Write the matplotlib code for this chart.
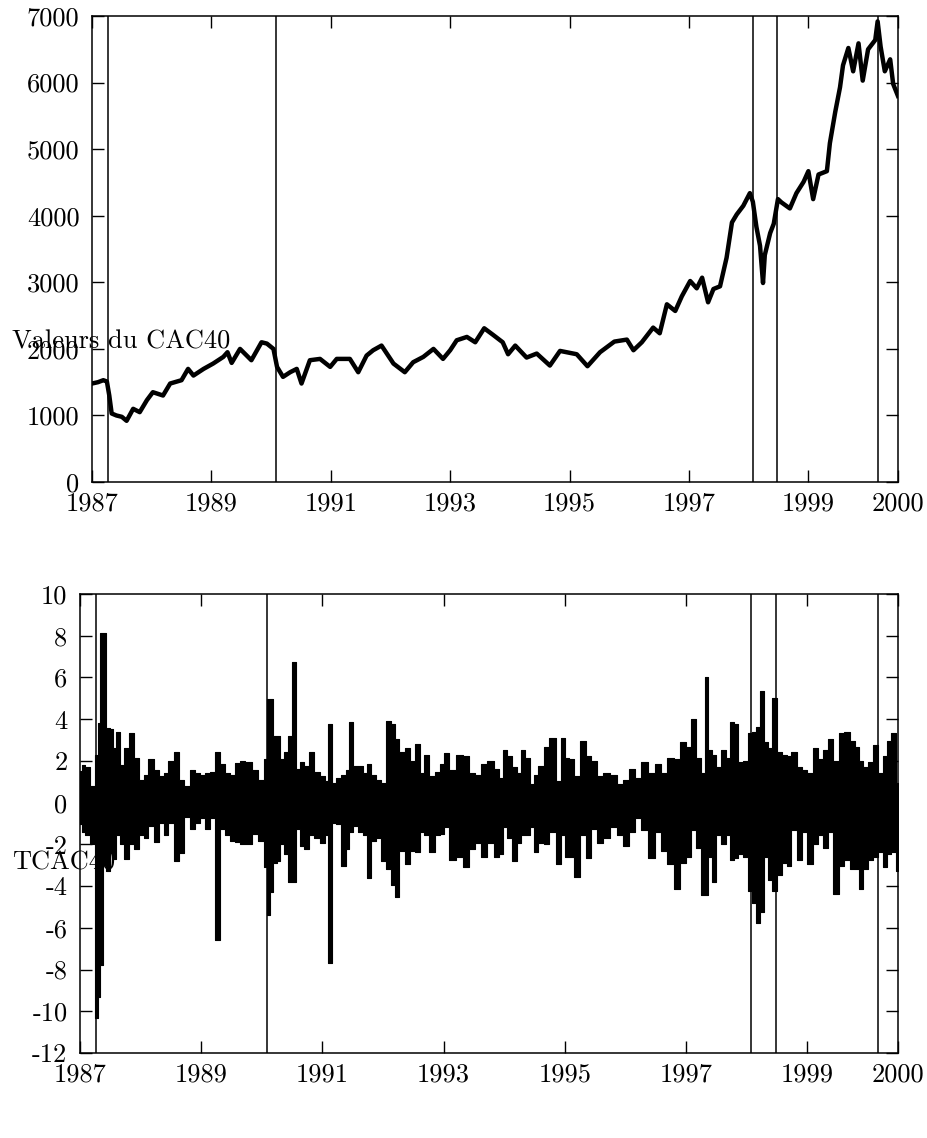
import numpy as np
import matplotlib
matplotlib.use("Agg")
import matplotlib.pyplot as plt

plt.rcParams["font.family"] = ["cmr10", "DejaVu Serif"]
plt.rcParams["axes.unicode_minus"] = False
plt.rcParams["font.size"] = 19

# x axis: years since start of sample (ticks labelled with calendar years)
tick_pos = [0, 2, 4, 6, 8, 10, 12, 13.5]
tick_lab = ["1987", "1989", "1991", "1993", "1995", "1997", "1999", "2000"]

# break dates (vertical lines)
breaks = [0.27, 3.09, 11.08, 11.48, 13.17]

# CAC40 level
cac_t = [0.0, 0.1, 0.19, 0.25, 0.29, 0.33, 0.41, 0.5, 0.58, 0.69, 0.8, 0.92,
         1.02, 1.19, 1.31, 1.5, 1.61, 1.7, 1.87, 2.03, 2.2, 2.27, 2.34, 2.48,
         2.67, 2.84, 2.93, 3.04, 3.1, 3.2, 3.32, 3.43, 3.51, 3.65, 3.82, 3.99,
         4.1, 4.32, 4.46, 4.6, 4.71, 4.85, 5.05, 5.24, 5.38, 5.55, 5.72, 5.88,
         6.0, 6.11, 6.28, 6.42, 6.57, 6.72, 6.88, 6.97, 7.09, 7.28, 7.45, 7.67,
         7.84, 8.12, 8.3, 8.51, 8.75, 8.96, 9.07, 9.21, 9.4, 9.51, 9.63, 9.77,
         9.88, 10.02, 10.13, 10.22, 10.32, 10.41, 10.52, 10.63, 10.72, 10.8,
         10.91, 11.02, 11.07, 11.13, 11.19, 11.24, 11.27, 11.36, 11.42, 11.49,
         11.55, 11.69, 11.8, 11.92, 12.0, 12.08, 12.17, 12.31, 12.36, 12.45,
         12.53, 12.58, 12.67, 12.75, 12.84, 12.91, 13.0, 13.12, 13.16, 13.21,
         13.28, 13.37, 13.42, 13.5]
cac_v = [1480, 1500, 1530, 1510, 1300, 1030, 1000, 980, 920, 1100, 1050, 1230,
         1350, 1300, 1480, 1530, 1700, 1600, 1700, 1780, 1880, 1950, 1790, 2000,
         1830, 2100, 2080, 2000, 1730, 1580, 1650, 1700, 1480, 1830, 1850, 1730,
         1850, 1850, 1650, 1900, 1980, 2050, 1780, 1650, 1800, 1880, 2000, 1850,
         1980, 2130, 2180, 2100, 2310, 2210, 2100, 1920, 2050, 1870, 1930, 1750,
         1970, 1920, 1740, 1950, 2110, 2140, 1980, 2100, 2320, 2235, 2670, 2570,
         2790, 3020, 2910, 3070, 2700, 2900, 2940, 3370, 3900, 4020,
         4150, 4340, 4210, 3830, 3550, 2990, 3410, 3740, 3880, 4250,
         4200, 4110, 4340, 4510, 4670, 4250, 4620, 4670, 5090, 5560,
         5930, 6260, 6520, 6170, 6590, 6030, 6500, 6640, 6920, 6540,
         6170, 6350, 5980, 5800]

# TCAC40 returns: local highs and lows
ret_t = [0.0, 0.05, 0.13, 0.21, 0.27, 0.31, 0.35, 0.4, 0.46, 0.52, 0.57, 0.63, 0.68,
         0.76, 0.85, 0.93, 1.01, 1.09, 1.17, 1.26, 1.34, 1.42, 1.5, 1.61, 1.66,
         1.77, 1.86, 1.94, 2.02, 2.1, 2.19, 2.27, 2.35, 2.43, 2.52, 2.6, 2.67,
         2.78, 2.89, 3.0, 3.06, 3.11, 3.16, 3.21, 3.28, 3.33, 3.39, 3.47, 3.53,
         3.61, 3.66, 3.75, 3.82, 3.91, 4.0, 4.08, 4.12, 4.19, 4.27, 4.35, 4.42,
         4.46, 4.54, 4.63, 4.71, 4.76, 4.85, 4.93, 5.01, 5.09, 5.18, 5.23, 5.31,
         5.41, 5.49, 5.57, 5.66, 5.71, 5.82, 5.9, 5.99, 6.04, 6.15, 6.26, 6.37,
         6.48, 6.56, 6.67, 6.78, 6.87, 6.95, 7.0, 7.09, 7.17, 7.25, 7.3, 7.39,
         7.46, 7.52, 7.61, 7.69, 7.8, 7.91, 7.98, 8.04, 8.11, 8.2, 8.31, 8.39,
         8.47, 8.58, 8.69, 8.8, 8.91, 9.02, 9.1, 9.21, 9.32, 9.43, 9.54, 9.63,
         9.74, 9.85, 9.96, 10.04, 10.13, 10.2, 10.29, 10.33, 10.4, 10.45, 10.53,
         10.63, 10.7, 10.76, 10.82, 10.9, 10.99, 11.07, 11.12, 11.19, 11.25,
         11.32, 11.4, 11.45, 11.54, 11.62, 11.7, 11.78, 11.87, 11.95, 12.06,
         12.14, 12.22, 12.31, 12.39, 12.47, 12.57, 12.66, 12.75, 12.83, 12.88,
         12.97, 13.05, 13.13, 13.21, 13.3, 13.35, 13.43, 13.5]
ret_hi = [1.5, 1.8, 1.7, 0.8, 2.3, 3.8, 8.15, 8.15, 3.6, 3.55, 2.6, 3.4, 1.8,
          2.6, 3.33, 2.15, 1.1, 1.33, 2.07, 1.55, 1.26, 1.4, 2.0, 2.44, 1.1,
          0.8, 1.55, 1.4, 1.33, 1.4, 1.48, 2.44, 1.85, 1.4, 1.33, 1.9, 2.0,
          1.93, 1.55, 1.1, 2.07, 4.96, 4.96, 3.19, 3.19, 2.07, 2.44, 3.19, 6.74,
          1.63, 1.93, 1.78, 2.44, 1.48, 1.26, 1.04, 3.78, 0.96, 1.19, 1.33, 1.55,
          3.85, 1.78, 1.78, 1.4, 1.85, 1.33, 1.1, 0.96, 3.93, 3.78, 3.04, 2.44,
          2.6, 2.0, 2.81, 1.4, 2.3, 1.26, 1.48, 1.85, 2.37, 1.55, 2.3, 2.22,
          1.4, 1.33, 1.85, 2.0, 1.63, 1.19, 2.52, 2.22, 1.7, 1.4, 2.52, 2.15,
          0.89, 1.33, 1.78, 2.67, 3.11, 1.04, 3.11, 2.15, 2.07, 1.26, 2.96, 2.22,
          2.0, 1.26, 1.4, 1.33, 0.89, 1.1, 1.63, 1.19, 1.93, 1.4, 1.85, 1.4,
          2.15, 2.07, 2.89, 2.67, 4.0, 2.15, 1.4, 6.0, 2.52, 2.3, 1.7,
          2.52, 2.15, 3.85, 3.78, 1.93, 2.0, 3.33, 3.4, 3.63, 5.33,
          2.89, 2.6, 5.04, 2.44, 2.3, 2.22, 2.44, 1.7, 1.55, 1.4,
          2.6, 2.07, 2.52, 3.04, 2.0, 3.33, 3.4, 2.96, 2.67, 2.0,
          1.7, 1.93, 2.74, 1.4, 2.22, 2.96, 3.33, 0.96]
ret_lo = [-1.0, -1.4, -1.55, -2.0, -10.3, -9.3, -7.8, -3.0, -3.3, -2.4, -2.7, -1.55, -2.0,
          -2.7, -2.0, -2.2, -1.55, -1.7, -1.1, -1.9, -0.96, -1.55, -0.96, -2.8, -2.4,
          -0.67, -1.26, -0.96, -0.74, -1.26, -0.74, -6.6, -1.26, -1.55, -1.85, -1.9, -2.0,
          -2.0, -1.48, -1.85, -3.1, -5.4, -4.3, -2.9, -2.8, -2.0, -2.44, -3.78, -3.78,
          -1.26, -2.07, -2.2, -1.55, -1.7, -1.93, -1.55, -7.7, -0.96, -1.04, -3.04, -2.2,
          -1.4, -1.1, -1.4, -1.55, -3.63, -1.85, -1.7, -2.8, -3.19, -3.93, -4.5, -2.3,
          -2.96, -2.3, -2.37, -1.4, -1.55, -2.37, -1.55, -1.48, -1.19, -2.74, -2.6, -3.1,
          -2.2, -1.93, -2.6, -1.93, -2.6, -2.44, -1.19, -1.7, -2.8, -1.93, -1.55, -1.55,
          -1.19, -2.37, -1.93, -2.0, -1.4, -2.96, -1.55, -2.6, -2.6, -3.56, -1.55, -2.67,
          -1.26, -1.93, -1.7, -1.19, -1.55, -2.07, -1.4, -0.74, -1.33, -2.67, -1.4, -2.3,
          -2.96, -4.15, -2.89, -2.6, -1.33, -2.15, -4.44, -4.44, -2.6, -3.78, -1.55,
          -2.0, -1.55, -2.74, -2.67, -2.44, -2.6, -4.22, -4.81, -5.78, -5.26,
          -2.6, -3.7, -4.22, -3.48, -2.89, -3.04, -1.33, -2.74, -1.4, -2.96,
          -2.0, -1.55, -2.15, -1.4, -4.37, -3.04, -2.74, -3.19, -3.19, -4.15,
          -3.19, -2.74, -2.6, -2.37, -3.1, -2.44, -2.37, -3.3]

fig = plt.figure(figsize=(9.28, 11.38), dpi=100)
ax1 = fig.add_axes([0.0991, 0.5764, 0.8685, 0.4095])
ax2 = fig.add_axes([0.0862, 0.0747, 0.8815, 0.4033])

ax1.plot(cac_t, cac_v, color="black", lw=3.2)
# daily returns are so dense they print as a solid band with spiky edges
ax2.fill_between(ret_t, ret_lo, ret_hi, step="mid", color="black", lw=0.8,
                 edgecolor="black")

for ax in (ax1, ax2):
    for b in breaks:
        ax.axvline(b, color="black", lw=1.1)
    ax.set_xlim(0, 13.5)
    ax.set_xticks(tick_pos)
    ax.set_xticklabels(tick_lab)
    ax.tick_params(direction="in", length=8.6, width=1.0, top=True, right=True,
                   labelsize=19)
    ax.tick_params(axis="y", pad=9)
    ax.tick_params(axis="x", pad=7)
    for s in ax.spines.values():
        s.set_linewidth(1.1)

ax1.set_ylim(0, 7000)
ax1.set_yticks(range(0, 7001, 1000))
ax2.set_ylim(-12, 10)
ax2.set_yticks(range(-12, 11, 2))

fig.text(12 / 928, 1 - 342 / 1138, "Valeurs du CAC40", ha="left", va="center",
         fontsize=19)
fig.text(12 / 928, 1 - 863 / 1138, "TCAC40", ha="left", va="center",
         fontsize=19)

fig.savefig("out.png", dpi=100)
